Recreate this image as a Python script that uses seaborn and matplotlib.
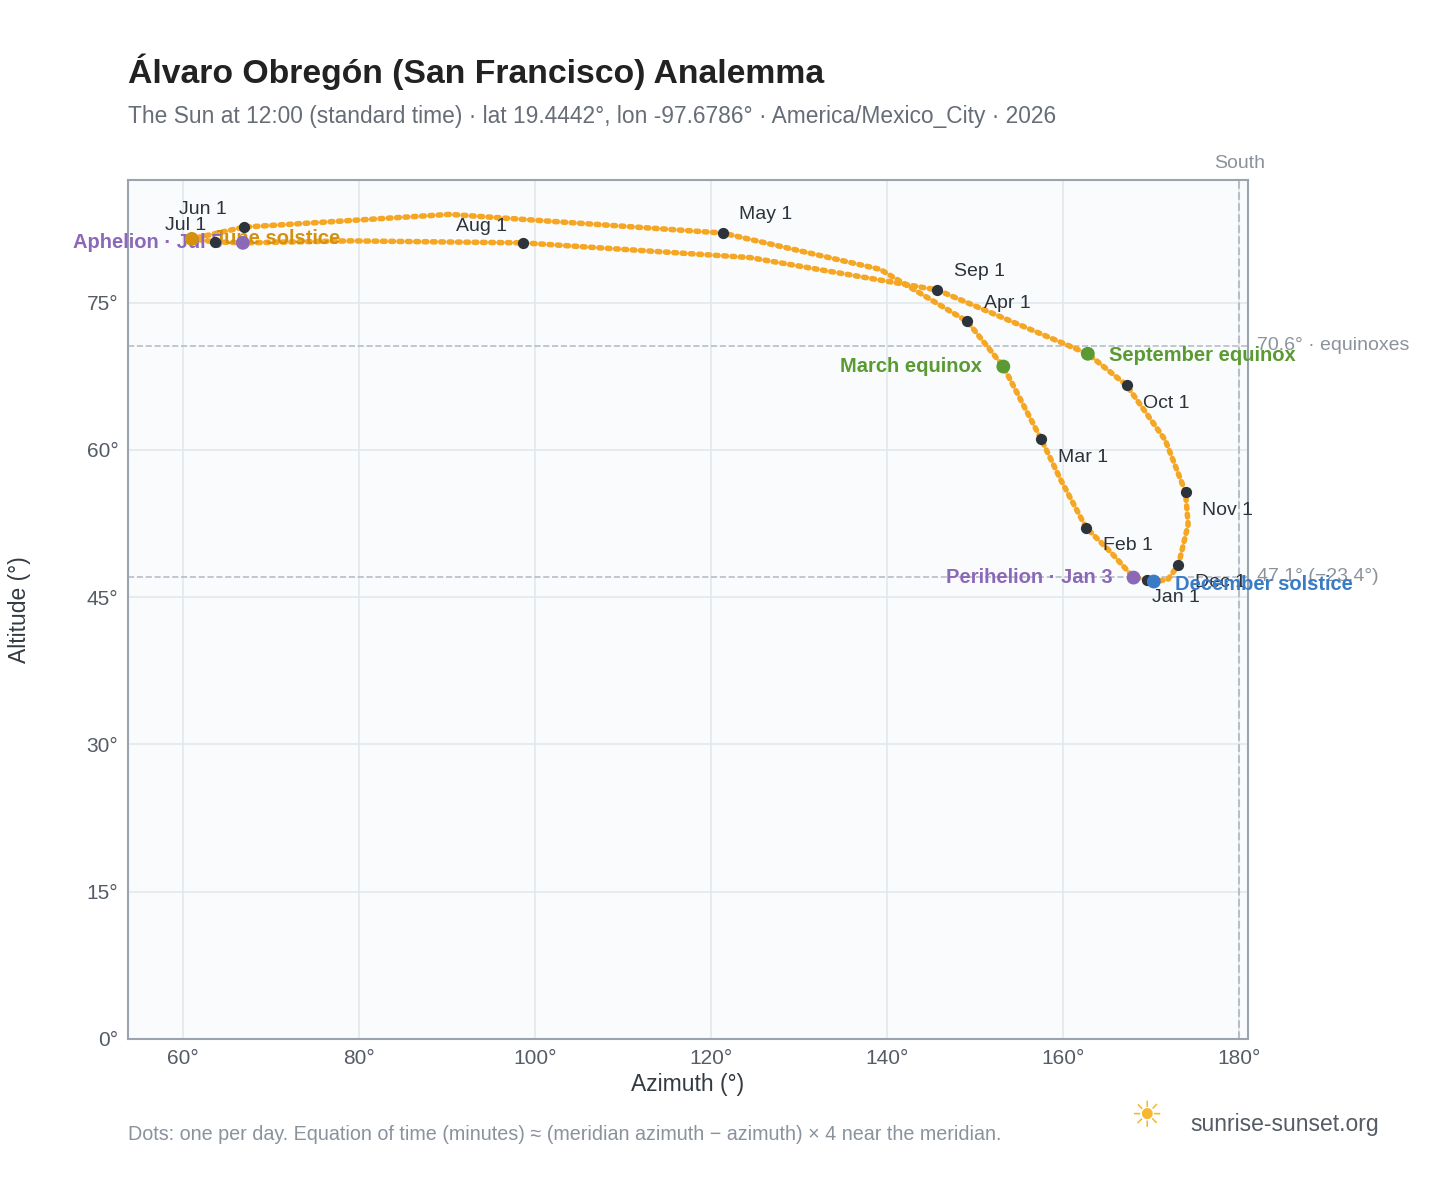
import pandas as pd
import matplotlib.pyplot as plt
import seaborn as sns
import numpy as np

# path of the sun at noon through the year
path_az = [169.5, 168.0, 165.5, 162.6, 159.7, 157.5, 153.2, 149.1, 139.2, 121.3, 90.3, 66.9, 61.0,
           63.6, 66.8, 79.0, 98.6, 124.4, 145.7, 162.8, 167.2, 171.6, 173.9, 174.2, 173.1, 171.9, 170.3, 169.5]
path_alt = [46.8, 47.0, 49.5, 52.1, 57.0, 61.1, 68.5, 73.1, 78.4, 82.1, 84.0, 82.7, 81.5,
            81.2, 81.1, 81.3, 81.1, 79.6, 76.3, 69.8, 66.6, 61.0, 55.7, 52.4, 48.3, 46.8, 46.6, 46.8]

months = ["Jan 1", "Feb 1", "Mar 1", "Apr 1", "May 1", "Jun 1", "Jul 1", "Aug 1", "Sep 1", "Oct 1", "Nov 1", "Dec 1"]
month_az = [169.5, 162.6, 157.5, 149.1, 121.3, 66.9, 63.6, 98.6, 145.7, 167.2, 173.9, 173.1]
month_alt = [46.8, 52.1, 61.1, 73.1, 82.1, 82.7, 81.2, 81.1, 76.3, 66.6, 55.7, 48.3]
label_off = [(4, -13), (12, -13), (12, -13), (12, 13), (12, 13), (-12, 13), (-6, 12), (-11, 12),
             (12, 13), (12, -13), (12, -13), (12, -13)]

events = ["March equinox", "September equinox", "June solstice", "December solstice", "Perihelion · Jan 3", "Aphelion · Jul 5"]
event_az = [153.2, 162.8, 61.0, 170.3, 168.0, 66.8]
event_alt = [68.5, 69.8, 81.5, 46.6, 47.0, 81.1]
event_col = ["#5a9a32", "#5a9a32", "#d4900f", "#3a7bc8", "#8c68b8", "#8c68b8"]

sns.set_style("white")
plt.rcParams['font.family'] = ['Liberation Sans', 'DejaVu Sans']

fig = plt.figure(figsize=(14.48, 11.88), dpi=100)
ax = fig.add_axes([128 / 1448, 1 - 1039 / 1188, 1120 / 1448, 859 / 1188])
ax.set_facecolor("#f9fbfd")

df = pd.DataFrame({"az": path_az, "alt": path_alt})
sns.lineplot(data=df, x="az", y="alt", sort=False, estimator=None, ax=ax, color="#f5a623",
             lw=4, linestyle=(0, (0.5, 1.0)), dash_capstyle="round", zorder=3)

ax.axhline(70.6, color="#b8bec8", ls="--", lw=1.2)
ax.axhline(47.1, color="#b8bec8", ls="--", lw=1.2)
ax.axvline(180, color="#b8bec8", ls="--", lw=1.5)
ax.text(182, 70.6, "70.6° · equinoxes", color="#8a929c", fontsize=14, va="center")
ax.text(182, 47.1, "47.1° (−23.4°)", color="#8a929c", fontsize=14, va="center")
ax.text(180, 88.3, "South", color="#8a929c", fontsize=14, ha="center", va="bottom")

ax.scatter(month_az, month_alt, s=50, color="#2d333b", zorder=5)
for m, x, y, (dx, dy) in zip(months, month_az, month_alt, label_off):
    ax.annotate(m, (x, y), xytext=(dx, dy), textcoords="offset points", fontsize=14,
                color="#2d333b", ha="left" if dx >= 0 else "right", va="center")

ax.scatter(event_az, event_alt, s=80, color=event_col, zorder=6)
ev_off = [(-15, 0), (15, -1), (15, 0), (15, -2), (-15, 0), (-15, 0)]
for e, x, y, c, (dx, dy) in zip(events, event_az, event_alt, event_col, ev_off):
    ax.annotate(e, (x, y), xytext=(dx, dy), textcoords="offset points", fontsize=14.5, fontweight="bold",
                color=c, ha="left" if dx > 0 else "right", va="center")

ax.set_xlim(53.75, 181.0)
ax.set_ylim(0, 87.5)
ax.set_xticks(range(60, 181, 20))
ax.set_xticklabels([f"{v}°" for v in range(60, 181, 20)])
ax.set_yticks(range(0, 76, 15))
ax.set_yticklabels([f"{v}°" for v in range(0, 76, 15)])
ax.grid(True, color="#e3e8ee", lw=1.2)
ax.tick_params(labelsize=15, colors="#555c66")
for s in ax.spines.values():
    s.set_color("#9aa3ae")
    s.set_linewidth(1.5)
ax.set_xlabel("Azimuth (°)", fontsize=16.5, color="#333a42")
ax.set_ylabel("Altitude (°)", fontsize=16.5, color="#333a42", labelpad=40)

fig.text(128 / 1448, 1 - 72 / 1188, "Álvaro Obregón (San Francisco) Analemma", fontsize=24.3,
         fontweight="bold", color="#222222", va="center")
fig.text(128 / 1448, 1 - 116 / 1188,
         "The Sun at 12:00 (standard time) · lat 19.4442°, lon -97.6786° · America/Mexico_City · 2026",
         fontsize=16.4, color="#666d77", va="center")
fig.text(128 / 1448, 1 - 1134 / 1188,
         "Dots: one per day. Equation of time (minutes) ≈ (meridian azimuth − azimuth) × 4 near the meridian.",
         fontsize=14.2, color="#8a929c", va="center")
fig.text(1190 / 1448, 1 - 1125 / 1188, "sunrise-sunset.org", fontsize=16.5, color="#555c66", va="center")
fig.text(1146 / 1448, 1 - 1118 / 1188, "☀", fontsize=26, color="#f5b82e", ha="center", va="center")

fig.savefig("out.png", dpi=100)
